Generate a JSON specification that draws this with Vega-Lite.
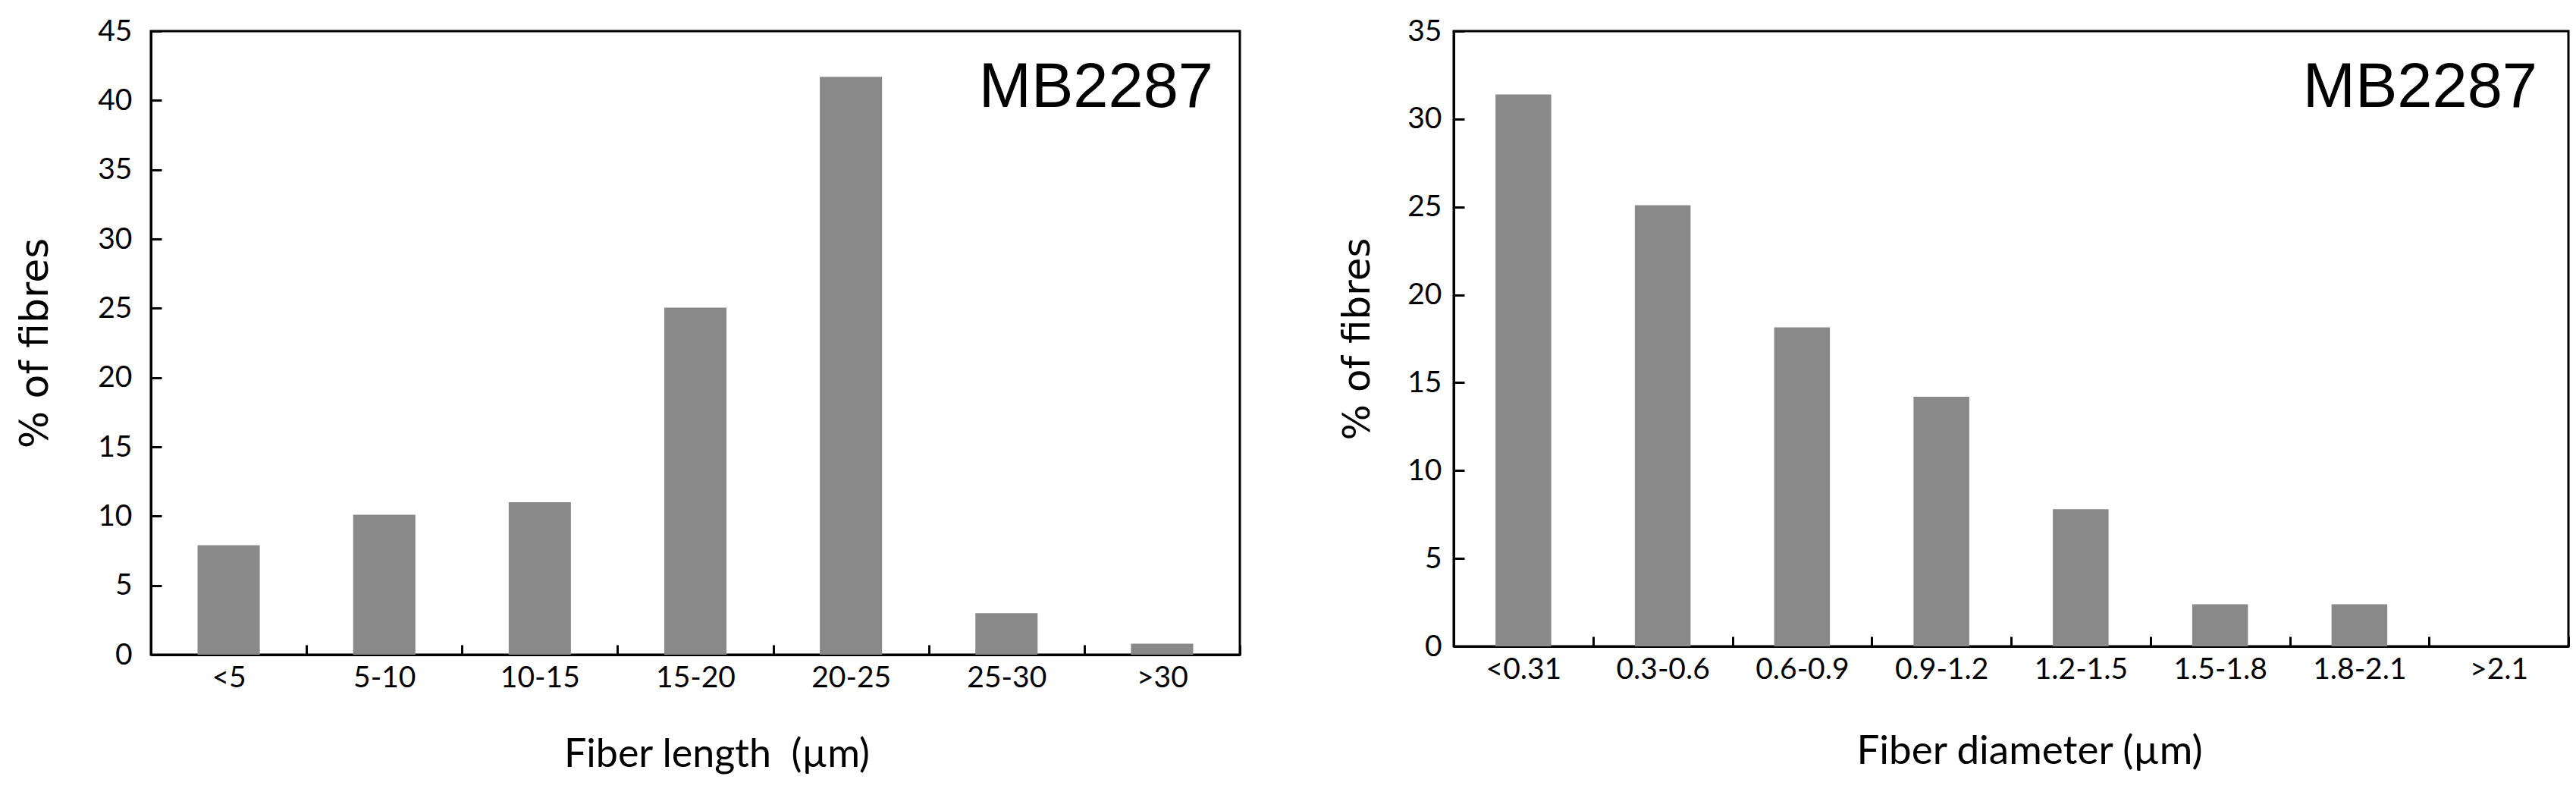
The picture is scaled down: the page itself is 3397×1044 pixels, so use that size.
{
  "$schema": "https://vega.github.io/schema/vega-lite/v6.json",
  "background": "white",
  "padding": {"left": 19, "top": 20, "right": 10, "bottom": 5},
  "config": {
    "view": {"stroke": "black", "strokeWidth": 3},
    "axis": {"domainColor": "black", "domainWidth": 3, "tickColor": "black", "tickWidth": 3, "labelColor": "black", "titleColor": "black", "grid": false, "labelFont": "Lato", "labelFontSize": 39, "titleFontWeight": "normal"},
    "concat": {"spacing": 126}
  },
  "hconcat": [
    {
      "width": 1436,
      "height": 822,
      "layer": [
        {
          "data": {"values": [
            {"bin": "<5", "pct": 7.9},
            {"bin": "5-10", "pct": 10.1},
            {"bin": "10-15", "pct": 11.0},
            {"bin": "15-20", "pct": 25.05},
            {"bin": "20-25", "pct": 41.7},
            {"bin": "25-30", "pct": 3.0},
            {"bin": ">30", "pct": 0.8}
          ]},
          "mark": {"type": "bar", "color": "#898989", "width": {"band": 0.4}},
          "encoding": {
            "x": {"field": "bin", "type": "nominal", "sort": null, "scale": {"paddingInner": 0, "paddingOuter": 0},
              "axis": {"title": "Fiber length\u00a0 (µm)", "labelAngle": 0, "tickBand": "extent", "tickSize": -13, "labelPadding": 24, "titleFont": "Lato", "titleFontSize": 52, "titlePadding": 56, "titleX": 746}},
            "y": {"field": "pct", "type": "quantitative", "scale": {"domain": [0, 45], "nice": false},
              "axis": {"values": [0, 5, 10, 15, 20, 25, 30, 35, 40, 45], "title": "% of fibres", "titleFont": "DejaVu Sans", "titleFontSize": 52, "tickSize": -14, "labelPadding": 39, "titlePadding": 55}}
          }
        },
        {
          "data": {"values": [{"label": "MB2287"}]},
          "mark": {"type": "text", "font": "Liberation Sans", "fontSize": 83, "align": "right", "baseline": "alphabetic", "dx": -35},
          "encoding": {
            "x": {"datum": ">30", "bandPosition": 1},
            "y": {"datum": 39.5},
            "text": {"field": "label"}
          }
        }
      ]
    },
    {
      "width": 1470,
      "height": 811,
      "layer": [
        {
          "data": {"values": [
            {"bin": "<0.31", "pct": 31.4},
            {"bin": "0.3-0.6", "pct": 25.1},
            {"bin": "0.6-0.9", "pct": 18.15},
            {"bin": "0.9-1.2", "pct": 14.2},
            {"bin": "1.2-1.5", "pct": 7.8},
            {"bin": "1.5-1.8", "pct": 2.4},
            {"bin": "1.8-2.1", "pct": 2.4},
            {"bin": ">2.1", "pct": 0}
          ]},
          "mark": {"type": "bar", "color": "#898989", "width": {"band": 0.4}},
          "encoding": {
            "x": {"field": "bin", "type": "nominal", "sort": null, "scale": {"paddingInner": 0, "paddingOuter": 0},
              "axis": {"title": "Fiber diameter (µm)", "labelAngle": 0, "tickBand": "extent", "tickSize": -13, "labelPadding": 24, "titleFont": "Lato", "titleFontSize": 53, "titlePadding": 62, "titleX": 759}},
            "y": {"field": "pct", "type": "quantitative", "scale": {"domain": [0, 35], "nice": false},
              "axis": {"values": [0, 5, 10, 15, 20, 25, 30, 35], "title": "% of fibres", "titleFont": "DejaVu Sans", "titleFontSize": 50, "tickSize": -14, "labelPadding": 30, "titlePadding": 40}}
          }
        },
        {
          "data": {"values": [{"label": "MB2287"}]},
          "mark": {"type": "text", "font": "Liberation Sans", "fontSize": 83, "align": "right", "baseline": "alphabetic", "dx": -41},
          "encoding": {
            "x": {"datum": ">2.1", "bandPosition": 1},
            "y": {"datum": 30.7},
            "text": {"field": "label"}
          }
        }
      ]
    }
  ]
}
